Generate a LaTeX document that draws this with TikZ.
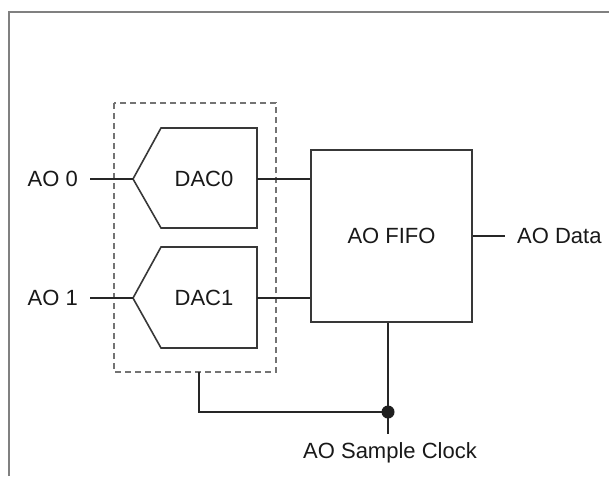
\documentclass[tikz,border=0pt]{standalone}
\usepackage{fontspec}
\setmainfont{Liberation Sans}
\begin{document}
\begin{tikzpicture}[x=1pt,y=-1pt,
  wire/.style={draw=black!85,line width=1.4pt},
  blockline/.style={draw=black!78,line width=1.6pt},
  frameline/.style={draw=black!50,line width=2pt},
  groupbox/.style={draw=black!55,line width=1.4pt,dash pattern=on 6pt off 4pt},
  lbl/.style={font=\fontsize{22}{26}\selectfont,text=black!90,inner sep=0pt}]
\useasboundingbox (0,0) rectangle (609,476);
\fill[white] (0,0) rectangle (609,476);
% outer frame (open to the right and bottom)
\draw[frameline] (9,476) -- (9,12) -- (609,12);
% dashed group
\draw[groupbox] (114,103) rectangle (276,372);
\coordinate (grpS) at (199,372);
% DAC shapes
\draw[blockline] (133,179) -- (161,128) -- (257,128) -- (257,228) -- (161,228) -- cycle;
\draw[blockline] (133,298) -- (161,247) -- (257,247) -- (257,348) -- (161,348) -- cycle;
\coordinate (dac0in) at (133,179);
\coordinate (dac0out) at (257,179);
\coordinate (dac1in) at (133,298);
\coordinate (dac1out) at (257,298);
\node[lbl] (dac0) at (204,179) {DAC0};
\node[lbl] (dac1) at (204,298) {DAC1};
% FIFO
\node[blockline,minimum width=161pt,minimum height=172pt,inner sep=0pt] (fifo) at (391.5,236) {};
\node[lbl] at (fifo.center) {AO FIFO};
% labels
\node[lbl,anchor=east] (ao0) at (78,179) {AO 0};
\node[lbl,anchor=east] (ao1) at (78,298) {AO 1};
\node[lbl,anchor=west] (aodata) at (517,236) {AO Data};
\node[lbl,anchor=north] (clk) at (390,442) {AO Sample Clock};
% wires
\draw[wire] ([xshift=12pt]ao0.east) -- (dac0in);
\draw[wire] ([xshift=12pt]ao1.east) -- (dac1in);
\draw[wire] (dac0out) -- (fifo.west |- dac0out);
\draw[wire] (dac1out) -- (fifo.west |- dac1out);
\draw[wire] (fifo.east) -- ([xshift=-12pt]aodata.west);
\coordinate (junc) at (388,412);
\draw[wire] (grpS) -- (grpS |- junc) -- (junc);
\draw[wire] (fifo.south -| junc) -- (388,434);
\fill[black!88] (junc) circle (6.5pt);
\end{tikzpicture}
\end{document}
